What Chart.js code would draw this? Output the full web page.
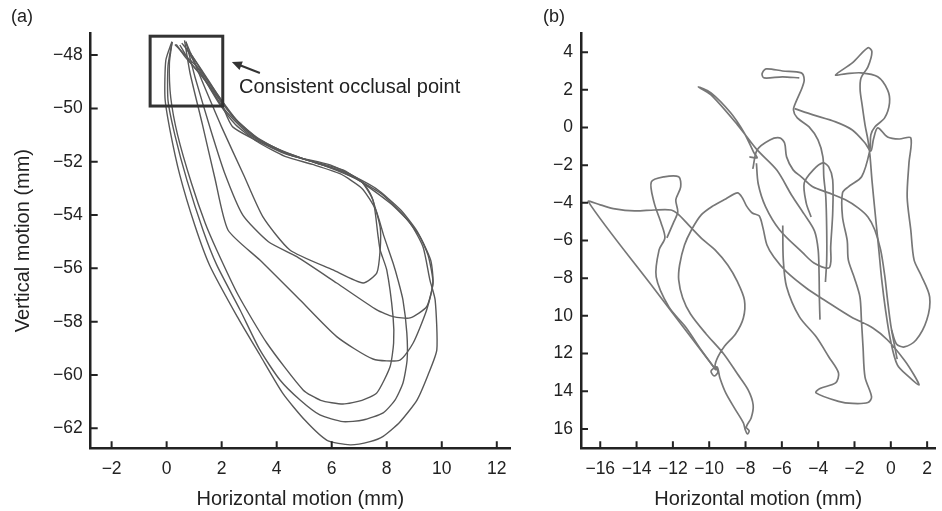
<!DOCTYPE html>
<html>
<head>
<meta charset="utf-8">
<script src="https://cdn.jsdelivr.net/npm/chart.js@4.4.0/dist/chart.umd.min.js"></script>
<style>
  body { margin: 0; background: #fff; width: 942px; height: 511px; position: relative; overflow: hidden;
         font-family: "Liberation Sans", Arial, sans-serif; }
  #wrapA { position: absolute; left: 0; top: 0; }
  #wrapB { position: absolute; left: 540px; top: 0; }
  .panel { position: absolute; font-size: 18px; color: #222; }
</style>
</head>
<body>
<div id="wrapA"><canvas id="chartA" width="540" height="511"></canvas></div>
<div id="wrapB"><canvas id="chartB" width="402" height="511"></canvas></div>
<div class="panel" style="left:11px;top:6px">(a)</div>
<div class="panel" style="left:543px;top:6px">(b)</div>
<script>
// Оси
const aXTicks = [-2, 0, 2, 4, 6, 8, 10, 12];
const aYTicks = [-62, -60, -58, -56, -54, -52, -50, -48];
const bXTicks = [-16, -14, -12, -10, -8, -6, -4, -2, 0, 2];
const bYTicks = [-16, -14, -12, -10, -8, -6, -4, -2, 0, 2, 4];

// (a) циклы жевания, [x, y] в мм
const loopA = [[0.19,-47.5],[-0.03,-48.2],[-0.06,-49.6],[0.12,-50.8],[0.48,-52.5],[1.03,-54.4],[1.57,-55.9],
  [2.56,-57.8],[3.39,-59.25],[4.23,-60.7],[5.03,-61.7],[5.83,-62.45],[6.67,-62.62],[7.39,-62.5],[7.87,-62.3],
  [8.48,-61.76],[9.1,-60.94],[9.5,-60.0],[9.82,-59.06],[9.76,-57.19],[9.57,-56.44],[9.32,-55.2],[8.85,-54.3],
  [8.12,-53.55],[7.14,-52.8],[6.41,-52.31],[4.85,-51.86],[4.23,-51.67],[2.41,-50.7],[1.94,-49.69],[1.21,-48.56],
  [0.67,-48.0],[0.3,-47.6]];
const loopB = [[0.2,-47.5],[0.05,-48.4],[0.05,-49.7],[0.3,-51.0],[0.74,-52.7],[1.32,-54.56],[1.82,-55.87],
  [2.67,-57.56],[3.39,-59.06],[4.12,-60.19],[4.85,-60.94],[5.57,-61.5],[6.41,-61.75],[7.14,-61.69],[7.87,-61.42],
  [8.3,-60.94],[8.59,-60.3],[8.74,-59.44],[8.73,-58.42],[8.59,-57.19],[8.41,-56.44],[8.23,-55.8],[7.9,-54.8],
  [7.6,-53.8],[7.1,-53.0],[6.3,-52.45],[5.3,-52.1],[4.3,-51.8],[3.3,-51.25],[2.5,-50.6],[1.9,-49.8],[1.3,-48.8],
  [0.7,-48.1],[0.35,-47.6]];
const loopC = [[0.2,-47.5],[0.1,-48.3],[0.15,-49.6],[0.4,-51.0],[0.9,-52.8],[1.4,-54.3],[1.82,-55.31],[2.6,-57.0],
  [3.64,-58.8],[4.96,-60.56],[5.6,-60.95],[6.41,-61.09],[7.1,-60.95],[7.64,-60.67],[8.12,-59.69],[8.25,-58.8],
  [8.23,-57.81],[8.0,-56.06],[7.76,-55.31],[7.68,-54.75],[7.5,-53.44],[7.03,-52.69],[5.94,-52.12],[4.48,-51.75],
  [3.03,-51.0],[2.12,-50.06],[1.39,-48.94],[0.85,-48.26],[0.48,-47.62]];
const loopD = [[0.65,-47.45],[0.85,-48.67],[1.3,-50.6],[1.75,-52.6],[2.23,-54.56],[3.39,-55.69],[4.85,-57.19],
  [6.18,-58.56],[7.5,-59.4],[8.48,-59.44],[8.96,-58.8],[9.45,-57.56],[9.68,-56.55],[9.5,-55.5],[9.1,-54.6],
  [8.5,-53.8],[7.6,-53.0],[6.5,-52.4],[5.3,-52.0],[4.2,-51.6],[3.3,-51.1],[2.5,-50.4],[1.8,-49.5],[1.2,-48.6],
  [0.75,-47.8]];
const loopE = [[0.7,-47.5],[1.03,-48.82],[1.6,-50.8],[2.1,-52.4],[2.77,-54.0],[3.7,-55.0],[4.73,-55.56],
  [6.18,-56.55],[7.64,-57.56],[8.23,-57.81],[8.85,-57.86],[9.45,-57.44],[9.68,-56.55],[9.6,-55.7],[9.2,-54.8],
  [8.6,-54.0],[7.8,-53.2],[6.8,-52.6],[5.6,-52.1],[4.4,-51.7],[3.4,-51.2],[2.6,-50.5],[2.0,-49.7],[1.4,-48.8],
  [0.85,-47.9]];
const loopF = [[0.7,-47.5],[1.3,-49.0],[2.0,-50.7],[2.8,-52.5],[3.5,-54.07],[4.48,-55.31],[6.05,-56.06],
  [7.14,-56.55],[7.64,-56.17],[7.76,-55.31],[7.76,-54.45],[7.45,-53.3],[7.14,-52.8],[6.2,-52.3],[5.0,-51.9],
  [4.0,-51.5],[3.1,-51.0],[2.4,-50.3],[1.8,-49.4],[1.3,-48.6],[0.9,-48.0],[0.55,-47.55]];

// (b) траектории, [x, y] в мм
const traceMain = [[-9.63,-12.87],[-13.0,-8.6],[-16.65,-3.95],[-16.0,-4.11],[-15.19,-4.32],[-14.11,-4.43],
  [-13.03,-4.38],[-12.1,-4.38],[-11.73,-4.59],[-11.14,-5.17],[-10.33,-5.97],[-9.68,-6.5],[-8.98,-7.3],[-8.44,-8.2],
  [-8.06,-9.16],[-8.12,-10.11],[-8.55,-10.96],[-9.15,-11.6],[-9.52,-12.18],[-9.68,-12.66],[-9.52,-12.98],
  [-9.73,-13.19],[-9.9,-12.93],[-9.57,-12.71],[-9.41,-13.3],[-9.09,-14.09],[-8.55,-14.99],[-8.12,-15.68],
  [-8.01,-16.06],[-7.9,-16.27],[-7.8,-16.11],[-7.96,-15.9],[-7.69,-15.42],[-7.58,-14.73],[-7.85,-13.94],
  [-8.44,-13.09],[-9.2,-12.02],[-10.17,-10.96],[-11.03,-9.9],[-11.46,-9.05],[-11.68,-8.09],[-11.63,-7.3],
  [-11.36,-6.24],[-10.98,-5.44],[-10.44,-4.64],[-9.79,-4.16],[-9.09,-3.79],[-8.44,-3.47],[-8.17,-3.74],
  [-7.95,-4.16],[-7.63,-4.54],[-7.25,-4.69],[-7.04,-5.33],[-6.82,-6.24],[-6.44,-6.88],[-5.74,-7.67],[-4.66,-8.52],
  [-3.58,-9.21],[-2.18,-10.06],[-0.99,-10.64],[-0.18,-11.28],[0.74,-12.34],[1.28,-13.14],[1.55,-13.67],
  [1.0,-13.24],[0.36,-12.6],[-0.02,-11.28],[-0.29,-9.69],[-0.5,-8.09],[-0.66,-6.5],[-0.88,-4.38],[-1.04,-2.78],
  [-1.15,-1.46],[-1.26,-0.66],[-1.42,0.14],[-1.58,1.2],[-1.69,2.0],[-1.64,2.63],[-1.26,3.22],[-1.04,4.02],
  [-1.26,4.23],[-2.12,3.43],[-3.04,2.79],[-2.5,2.85],[-1.64,2.9],[-0.72,2.69],[-0.18,2.0],[-0.07,1.31],
  [-0.34,0.51],[-0.88,0.03],[-1.1,-0.39],[-1.15,-1.19],[-1.6,-2.6],[-2.34,-3.15],[-2.66,-3.47],[-2.66,-4.75],
  [-2.4,-6.0],[-2.34,-7.03],[-2.0,-8.0],[-1.7,-9.0],[-1.62,-10.2],[-1.53,-11.65],[-1.42,-13.25],[-1.06,-14.3],
  [-1.26,-14.6],[-2.1,-14.65],[-2.88,-14.54],[-4.12,-14.09],[-3.9,-13.85],[-3.04,-13.56],[-2.88,-13.03],
  [-3.42,-12.17],[-4.12,-11.1],[-5.04,-10.04],[-5.74,-8.45],[-5.92,-7.03],[-5.95,-5.2]];
const traceHat = [[-12.33,-5.86],[-11.95,-5.01],[-11.73,-4.48],[-11.84,-3.84],[-11.57,-3.15],[-11.68,-2.62],
  [-12.49,-2.62],[-13.19,-2.89],[-13.03,-4.0],[-12.65,-5.07],[-12.44,-5.86],[-12.76,-6.5],[-12.92,-7.93],
  [-12.22,-9.53],[-11.3,-10.59],[-10.44,-11.81],[-9.63,-12.87]];
const traceSliver = [[-7.79,-1.56],[-7.36,-1.61],[-7.53,-1.35],[-8.07,-0.29],[-8.82,0.78],[-9.9,1.84],
  [-10.6,2.15],[-9.9,1.73],[-8.44,0.14],[-7.36,-1.19],[-6.28,-2.26],[-5.47,-3.58],[-4.77,-4.6],[-4.2,-5.5],
  [-4.0,-6.5],[-3.95,-7.8],[-3.93,-9.2],[-3.9,-10.2]];
const traceFlag = [[-5.04,2.63],[-5.96,2.69],[-6.98,2.63],[-7.09,2.85],[-6.87,3.11],[-5.96,3.0],[-4.93,2.9],
  [-4.77,2.53],[-4.89,2.1],[-5.2,1.41],[-5.36,0.93],[-5.15,0.51],[-4.5,0.03],[-4.01,-0.66],[-3.74,-1.56],
  [-3.69,-2.62],[-3.58,-3.69],[-3.53,-5.44],[-3.53,-7.03],[-3.6,-8.2]];
const traceHook = [[-5.3,1.0],[-4.28,0.67],[-3.04,0.3],[-2.12,-0.13],[-1.42,-0.82],[-1.1,-1.25],[-0.95,-0.6],
  [-0.72,-0.02],[-0.18,-0.5],[0.46,-0.61],[1.1,-0.55],[1.0,-1.88],[0.9,-3.69],[1.1,-5.44],[1.28,-7.03],
  [1.66,-7.83],[2.14,-9.0],[1.98,-10.22],[1.39,-11.28],[0.74,-11.65],[0.31,-11.49],[0.04,-10.75]];
const traceHumpJ = [[-4.39,-4.75],[-4.66,-4.0],[-4.77,-2.95],[-4.28,-2.26],[-3.74,-1.88],[-3.42,-2.09],
  [-3.2,-2.78],[-3.2,-4.54],[-3.31,-6.34],[-3.3,-7.1],[-3.42,-7.46],[-4.23,-7.19],[-4.84,-6.66],[-6.12,-5.44],
  [-6.9,-4.2],[-7.3,-3.0],[-7.4,-1.9]];
const traceArc = [[-7.6,-2.2],[-7.36,-1.19],[-6.66,-0.66],[-6.12,-0.55],[-5.85,-0.82],[-5.74,-1.56],
  [-5.38,-2.25],[-4.93,-2.62],[-4.3,-3.15],[-3.42,-3.47],[-2.5,-3.84],[-1.8,-4.27],[-1.26,-4.75],[-0.88,-5.44],
  [-0.56,-6.5],[-0.34,-7.83],[-0.18,-9.16],[0.0,-10.5],[0.35,-12.3]];

const MINUS = '\u2212';
function fmtTick(v) {
    return v < 0 ? MINUS + Math.abs(v) : String(v);
}
// на панели (b) подписи ниже −8 напечатаны без минуса
function fmtTickB(v) {
    return v <= -10 ? String(Math.abs(v)) : fmtTick(v);
}

function toPoints(arr) {
    return arr.map(p => ({ x: p[0], y: p[1] }));
}

function lineSet(arr, color, width, tension) {
    return {
        data: toPoints(arr),
        showLine: true,
        borderColor: color,
        borderWidth: width,
        pointRadius: 0,
        tension: tension,
        fill: false
    };
}

// Засечки внутрь области графика
const inwardTicks = {
    id: 'inwardTicks',
    afterDraw(chart) {
        const { ctx, chartArea: a, scales: { x, y } } = chart;
        ctx.save();
        ctx.strokeStyle = '#222';
        ctx.lineWidth = 2;
        ctx.beginPath();
        x.ticks.forEach(t => {
            const px = x.getPixelForValue(t.value);
            ctx.moveTo(px, a.bottom);
            ctx.lineTo(px, a.bottom - 7);
        });
        y.ticks.forEach(t => {
            const py = y.getPixelForValue(t.value);
            ctx.moveTo(a.left, py);
            ctx.lineTo(a.left + 7, py);
        });
        ctx.stroke();
        ctx.restore();
    }
};

// Рамка и стрелка на панели (a)
const occlusalNote = {
    id: 'occlusalNote',
    afterDatasetsDraw(chart) {
        const { ctx, scales: { x, y } } = chart;
        ctx.save();
        ctx.strokeStyle = '#333';
        ctx.lineWidth = 3;
        const x0 = x.getPixelForValue(-0.6), x1 = x.getPixelForValue(2.04);
        const y0 = y.getPixelForValue(-47.29), y1 = y.getPixelForValue(-49.91);
        ctx.strokeRect(x0, y0, x1 - x0, y1 - y0);

        const hx = x.getPixelForValue(2.37), hy = y.getPixelForValue(-48.26);
        const tx = x.getPixelForValue(3.39), ty = y.getPixelForValue(-48.67);
        const ang = Math.atan2(hy - ty, hx - tx);
        ctx.lineWidth = 2;
        ctx.beginPath();
        ctx.moveTo(tx, ty);
        ctx.lineTo(hx - 6 * Math.cos(ang), hy - 6 * Math.sin(ang));
        ctx.stroke();
        ctx.fillStyle = '#333';
        ctx.beginPath();
        ctx.moveTo(hx, hy);
        ctx.lineTo(hx - 10 * Math.cos(ang) + 4.5 * Math.sin(ang), hy - 10 * Math.sin(ang) - 4.5 * Math.cos(ang));
        ctx.lineTo(hx - 10 * Math.cos(ang) - 4.5 * Math.sin(ang), hy - 10 * Math.sin(ang) + 4.5 * Math.cos(ang));
        ctx.closePath();
        ctx.fill();

        ctx.fillStyle = '#222';
        ctx.font = '20px "Liberation Sans", Arial, sans-serif';
        ctx.textBaseline = 'middle';
        ctx.textAlign = 'left';
        ctx.fillText('Consistent occlusal point', x.getPixelForValue(2.63), y.getPixelForValue(-49.2));
        ctx.restore();
    }
};

function axisOptions(cfg) {
    return {
        x: {
            type: 'linear',
            min: cfg.xMin,
            max: cfg.xMax,
            afterBuildTicks: s => { s.ticks = cfg.xTicks.map(v => ({ value: v })); },
            afterFit: s => { s.height = 62.7; },
            grid: { display: false, drawTicks: false },
            border: { display: true, color: '#222', width: 2.5 },
            ticks: { color: '#222', font: { size: 17.5, family: '"Liberation Sans", Arial' }, padding: 10,
                     maxRotation: 0, autoSkip: false, callback: v => fmtTick(v) },
            title: { display: true, text: 'Horizontal motion (mm)', color: '#222',
                     font: { size: 20, family: '"Liberation Sans", Arial' }, padding: { top: 0, bottom: 0 } }
        },
        y: {
            type: 'linear',
            min: cfg.yMin,
            max: cfg.yMax,
            afterBuildTicks: s => { s.ticks = cfg.yTicks.map(v => ({ value: v })); },
            afterFit: s => { s.width = cfg.yWidth; },
            grid: { display: false, drawTicks: false },
            border: { display: true, color: '#222', width: 2.5 },
            ticks: { color: '#222', font: { size: 17.5, family: '"Liberation Sans", Arial' }, padding: 8,
                     autoSkip: false, callback: cfg.yFmt },
            title: { display: !!cfg.yTitle, text: cfg.yTitle || '', color: '#222',
                     font: { size: 20, family: '"Liberation Sans", Arial' }, padding: { top: 11, bottom: 0 } }
        }
    };
}

function baseOptions(cfg) {
    return {
        responsive: false,
        animation: false,
        layout: { padding: cfg.padding },
        plugins: { legend: { display: false }, tooltip: { enabled: false } },
        scales: axisOptions(cfg)
    };
}

const greyA = '#585858';
const greyB = '#777';

new Chart(document.getElementById('chartA'), {
    type: 'scatter',
    data: {
        datasets: [loopA, loopB, loopC, loopD, loopE, loopF].map(l => lineSet(l, greyA, 1.4, 0.2))
    },
    options: baseOptions({
        xMin: -2.76, xMax: 12.48, yMin: -62.75, yMax: -47.17,
        xTicks: aXTicks, yTicks: aYTicks, yWidth: 90.7,
        yFmt: v => fmtTick(v), yTitle: 'Vertical motion (mm)',
        padding: { top: 33, right: 30, left: 0, bottom: 0 }
    }),
    plugins: [inwardTicks, occlusalNote]
});

new Chart(document.getElementById('chartB'), {
    type: 'scatter',
    data: {
        datasets: [traceMain, traceHat, traceSliver, traceFlag, traceHook, traceHumpJ, traceArc]
            .map(l => lineSet(l, greyB, 1.7, 0.3))
    },
    options: baseOptions({
        xMin: -17.06, xMax: 2.45, yMin: -17.03, yMax: 5.0,
        xTicks: bXTicks, yTicks: bYTicks, yWidth: 41,
        yFmt: v => fmtTickB(v), yTitle: null,
        padding: { top: 33.3, right: 0, left: 0, bottom: 0 }
    }),
    plugins: [inwardTicks]
});
</script>
</body>
</html>
